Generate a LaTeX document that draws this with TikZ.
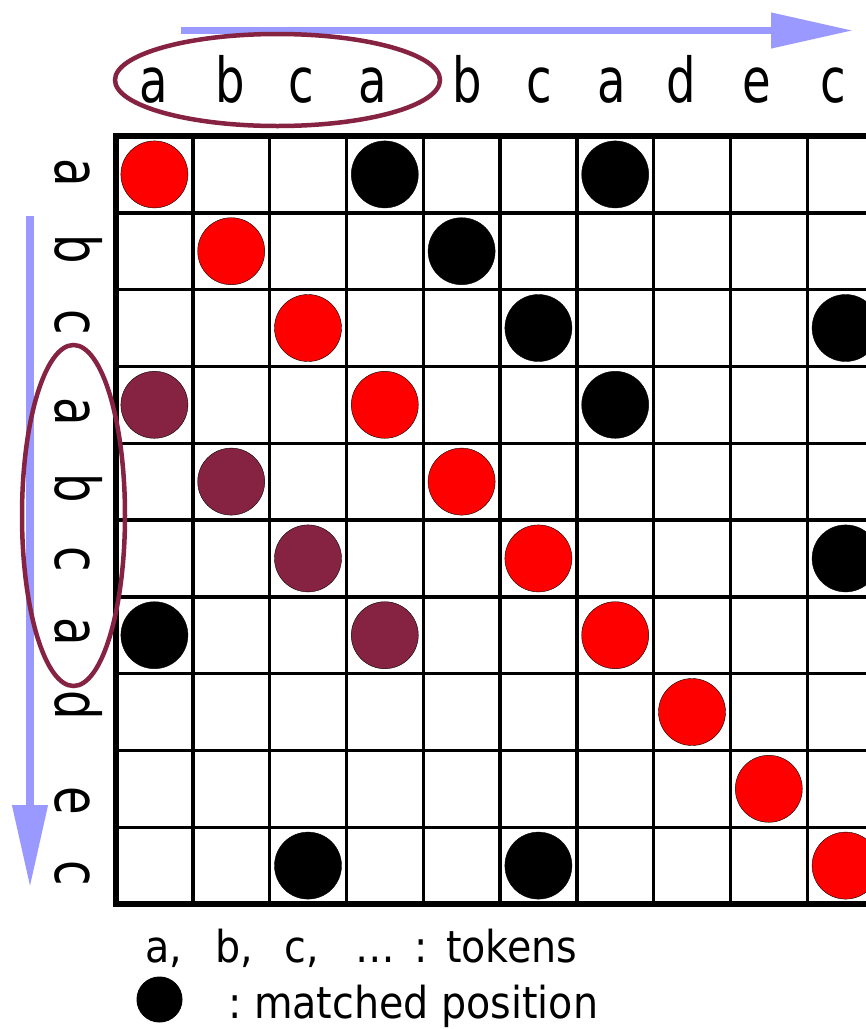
\documentclass[tikz,border=0pt]{standalone}
\usepackage{fontspec}
\usepackage{tikz}
\usetikzlibrary{arrows.meta,positioning,shapes.geometric}
\setmainfont{DejaVu Sans}
\newfontfamily\tokenFont[FakeStretch=0.75]{DejaVu Sans}
\newfontfamily\legendFont[FakeStretch=0.9]{DejaVu Sans}
\definecolor{inkBlack}{RGB}{0,0,0}
\definecolor{arrowBlue}{RGB}{153,153,255}
\definecolor{loopMaroon}{RGB}{134,34,66}
\definecolor{hitRed}{RGB}{255,0,0}

\begin{document}
\begin{tikzpicture}[x=1pt, y=-1pt,
    tok/.style={inner sep=0pt, anchor=base, font=\tokenFont\fontsize{62}{62}\selectfont},
    keytext/.style={inner sep=0pt, anchor=base west, font=\legendFont\fontsize{44}{44}\selectfont},
    scanline/.style={draw=arrowBlue, line width=7.5pt, -{Triangle[length=82pt, width=34pt]}},
    loop/.style={draw=loopMaroon, line width=4.5pt, ellipse, inner sep=0pt},
    cellline/.style={draw=inkBlack, line width=3.4pt},
    hit/.style={draw=inkBlack, line width=0.4pt}]
    \useasboundingbox (0,0) rectangle (866,1029);
    \clip (0,0) rectangle (866,1029);

    % scan directions
    \coordinate (topStart) at (181,30.5);
    \coordinate (topEnd) at (853,30.5);
    \coordinate (sideStart) at (30,216);
    \coordinate (sideEnd) at (30,887);
    \draw[scanline] (topStart) -- (topEnd);
    \draw[scanline] (sideStart) -- (sideEnd);

    % token strings
    \foreach \x/\t [count=\i] in {154/a,230/b,301/c,373/a,467/b,539/c,612/a,681/d,757/e,833/c}
        \node[tok] (top\i) at (\x,102) {\t};
    \foreach \y/\t [count=\i] in {173/a,249/b,322/c,412/a,488/b,559/c,632/a,705/d,801/e,873/c}
        \node[tok, rotate=-90] (side\i) at (55,\y) {\t};

    % match matrix
    \foreach \i in {1,...,9} {
        \draw[cellline] ({116+76.8*\i},136) -- ({116+76.8*\i},904);
        \draw[cellline] (116,{136+76.8*\i}) -- (884,{136+76.8*\i});
    }
    \draw[line width=6.5pt] (116,136) rectangle (884,904);
    \foreach \c/\r/\col in {1/1/hitRed,4/1/inkBlack,7/1/inkBlack,
                            2/2/hitRed,5/2/inkBlack,
                            3/3/hitRed,6/3/inkBlack,10/3/inkBlack,
                            1/4/loopMaroon,4/4/hitRed,7/4/inkBlack,
                            2/5/loopMaroon,5/5/hitRed,
                            3/6/loopMaroon,6/6/hitRed,10/6/inkBlack,
                            1/7/inkBlack,4/7/loopMaroon,7/7/hitRed,
                            8/8/hitRed,9/9/hitRed,
                            3/10/inkBlack,6/10/inkBlack,10/10/hitRed}
        \fill[hit, fill=\col] ({116+76.8*(\c-0.5)},{136+76.8*(\r-0.5)}) circle (33.5);

    % repeated block
    \node[loop, minimum width=325pt, minimum height=92pt] (topLoop) at (277.5,80) {};
    \node[loop, minimum width=103pt, minimum height=341pt] (sideLoop) at (73.5,515.5) {};

    % key
    \node[keytext] (tokenKey) at (145,962) {a,\hspace{33pt}b,\hspace{32pt}c,\hspace{36pt}…\hspace{20pt}:\hspace{18pt}tokens};
    \node[circle, fill=inkBlack, minimum size=46pt, inner sep=0pt] (dotKey) at (159.5,999.5) {};
    \node[keytext] (matchKey) at (228,1018) {:\ matched position};
\end{tikzpicture}
\end{document}
